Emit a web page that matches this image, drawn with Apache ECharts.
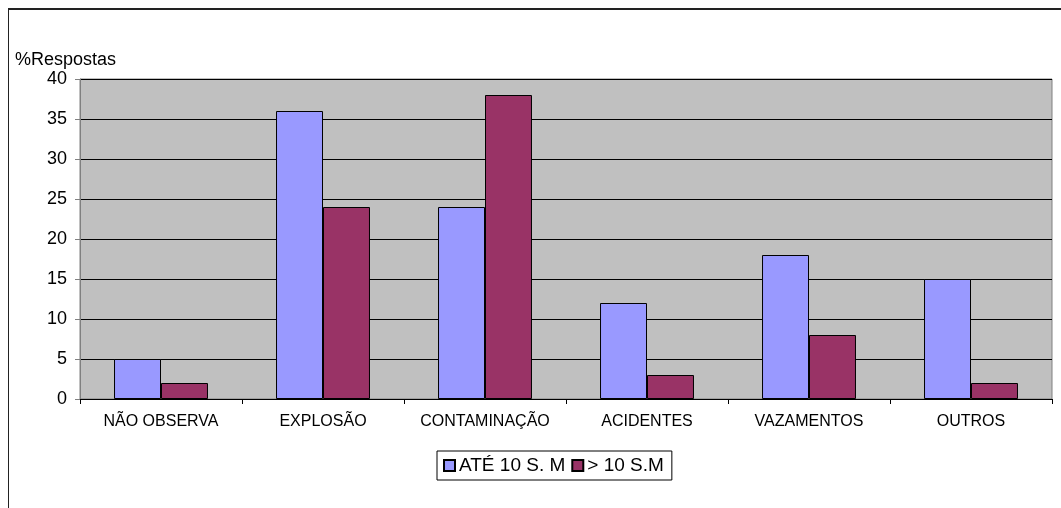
<!DOCTYPE html>
<html>
<head>
<meta charset="utf-8">
<script src="https://cdn.jsdelivr.net/npm/echarts@6/dist/echarts.min.js"></script>
<style>
  html, body { margin: 0; padding: 0; background: #fff; }
  #chart { width: 1061px; height: 508px; }
</style>
</head>
<body>
<div id="chart"></div>
<script>
  // categorias e valores
  var categorias = ['NÃO OBSERVA', 'EXPLOSÃO', 'CONTAMINAÇÃO', 'ACIDENTES', 'VAZAMENTOS', 'OUTROS'];
  var ate10 = [5, 36, 24, 12, 18, 15];
  var mais10 = [2, 24, 38, 3, 8, 2];
  var nomesSeries = ['ATÉ 10 S. M', '> 10 S.M'];

  var fonte = '"Liberation Sans", Arial, sans-serif';

  var chart = echarts.init(document.getElementById('chart'));
  var option = {
    animation: false,
    textStyle: { fontFamily: fonte },
    title: {
      text: '%Respostas',
      left: 10,
      top: 46,
      textStyle: { fontFamily: fonte, fontSize: 18, fontWeight: 'normal', color: '#000' }
    },
    graphic: [
      // moldura externa (topo e lado esquerdo)
      { type: 'line', shape: { x1: 8, y1: 9, x2: 1061, y2: 9 }, style: { stroke: '#222', lineWidth: 2 } },
      { type: 'line', shape: { x1: 8.5, y1: 9, x2: 8.5, y2: 508 }, style: { stroke: '#222', lineWidth: 1 } }
    ],
    legend: {
      data: nomesSeries,
      left: 437,
      top: 451,
      orient: 'horizontal',
      icon: 'rect',
      itemWidth: 11,
      itemHeight: 11,
      itemGap: 6,
      padding: [5, 8, 5, 6],
      borderColor: '#000',
      borderWidth: 1,
      textStyle: { fontFamily: fonte, fontSize: 19, color: '#000', padding: [0, 0, 0, -1] }
    },
    grid: {
      left: 80,
      right: 9,
      top: 79,
      bottom: 109,
      show: true,
      backgroundColor: '#C0C0C0',
      borderColor: '#808080',
      borderWidth: 1
    },
    xAxis: {
      type: 'category',
      data: categorias,
      axisLine: { lineStyle: { color: '#000', width: 1 } },
      axisTick: { show: true, length: 5, lineStyle: { color: '#000' } },
      axisLabel: { color: '#000', fontSize: 16, margin: 15, interval: 0, fontFamily: fonte }
    },
    yAxis: {
      type: 'value',
      min: 0,
      max: 40,
      interval: 5,
      axisLine: { show: true, lineStyle: { color: '#808080' } },
      axisTick: { show: true, length: 5, lineStyle: { color: '#808080' } },
      axisLabel: { color: '#000', fontSize: 18, margin: 13, fontFamily: fonte },
      splitLine: { show: true, lineStyle: { color: '#000', width: 1 } }
    },
    series: [
      {
        name: nomesSeries[0],
        type: 'bar',
        data: ate10,
        barGap: '0%',
        barCategoryGap: '42%',
        itemStyle: { color: '#9999FF', borderColor: '#000', borderWidth: 1 }
      },
      {
        name: nomesSeries[1],
        type: 'bar',
        data: mais10,
        itemStyle: { color: '#993366', borderColor: '#000', borderWidth: 1 }
      }
    ]
  };
  chart.setOption(option);
</script>
</body>
</html>
